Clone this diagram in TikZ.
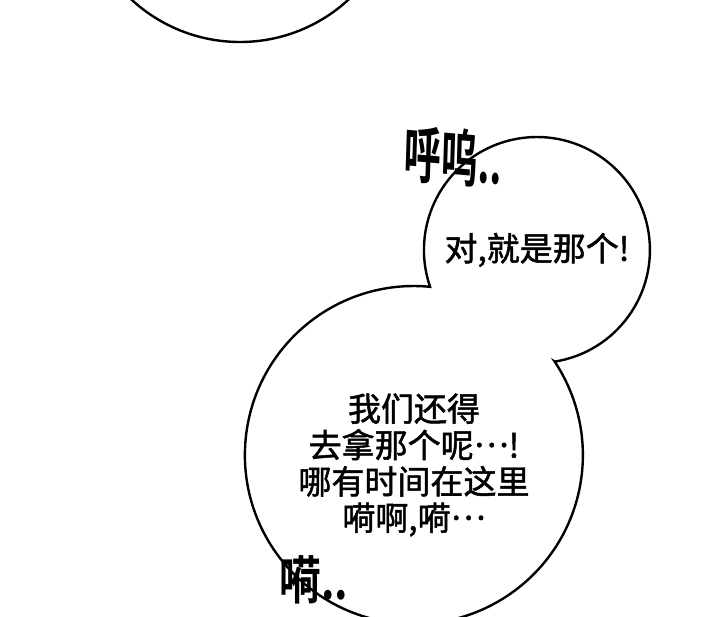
\documentclass[tikz,border=0pt]{standalone}
\usepackage{fontspec}
\newfontfamily\cjk{Noto Sans CJK SC}[FakeBold=1.5]
\newfontfamily\cjkbold{Noto Sans CJK SC Bold}
\newcommand{\midell}{\raisebox{0.32em}{…}}
\begin{document}
\begin{tikzpicture}[x=0.5pt,y=0.5pt,
  bubble/.style={draw=black,line width=1.2pt,fill=white},
  speech/.style={font=\cjk\fontsize{16.5}{18.2}\selectfont,align=center,inner sep=0pt},
  sfx/.style={font=\cjkbold\fontsize{31}{33}\selectfont,inner sep=0pt}]
\useasboundingbox[fill=white] (0,0) rectangle (720,617);
% top bubble (partially visible)
\begin{scope}
\clip (0,0) rectangle (720,617);
\draw[bubble] (240,735) circle[radius=160];
\end{scope}
% merged double bubble
\coordinate (I1) at (554.8,255.4);
\draw[bubble] (I1) arc[start angle=-80.9,end angle=199.0,radius=113]
  arc[start angle=84.5,end angle=393.6,radius=169] -- cycle;
% texts
\node[speech] (t1) at (537,367) {对,就是那个!};
\node[speech] (t2) at (414,152) {我们还得\\去拿那个呢\midell!\\哪有时间在这里\\嗬啊,嗬\midell};
\node[sfx,xscale=0.6,rotate=-3] (s1) at (453,460) {呼呜..};
\node[sfx,font=\cjkbold\fontsize{26}{28}\selectfont,xscale=0.8] (s2) at (314,37) {嗬..};
\end{tikzpicture}
\end{document}
